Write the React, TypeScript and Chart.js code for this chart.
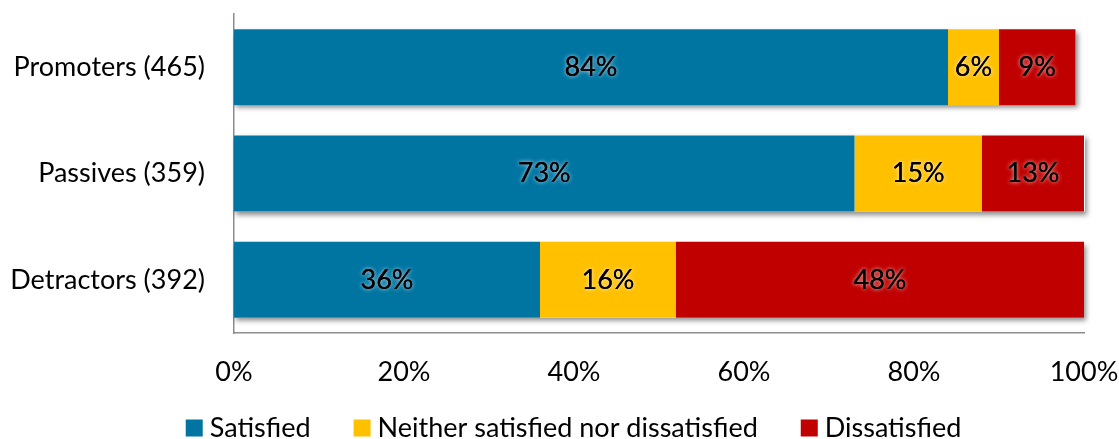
import React, { useEffect, useRef } from 'react';
import { Chart, registerables } from 'chart.js';

Chart.register(...registerables);

const categories = ['Promoters (465)', 'Passives (359)', 'Detractors (392)'];
const seriesNames = ['Satisfied', 'Neither satisfied nor dissatisfied', 'Dissatisfied'];
const satisfied = [84, 73, 36];
const neither = [6, 15, 16];
const dissatisfied = [9, 13, 48];
const xTickValues = [0, 20, 40, 60, 80, 100];
const seriesColors = ['#0075A2', '#FFC000', '#C00000'];

const FONT_FAMILY = 'Lato, "Open Sans", sans-serif';
const FONT_SIZE = 27;

const barShadowPlugin = {
  id: 'barShadow',
  beforeDatasetsDraw(chart: any) {
    const { ctx, chartArea } = chart;
    const n = chart.data.labels.length;
    ctx.save();
    ctx.shadowColor = 'rgba(0,0,0,0.45)';
    ctx.shadowBlur = 5;
    ctx.shadowOffsetX = 2;
    ctx.shadowOffsetY = 3;
    for (let i = 0; i < n; i++) {
      let left = Infinity;
      let right = -Infinity;
      let top = 0;
      let h = 0;
      chart.data.datasets.forEach((_: any, d: number) => {
        const el = chart.getDatasetMeta(d).data[i] as any;
        if (!el) return;
        left = Math.min(left, el.base, el.x);
        right = Math.max(right, el.base, el.x);
        top = el.y - el.height / 2;
        h = el.height;
      });
      right = Math.min(right, chartArea.right + 1);
      ctx.fillStyle = '#ffffff';
      ctx.fillRect(left, top, right - left, h);
    }
    ctx.restore();
  },
};

const valueLabelPlugin = {
  id: 'valueLabels',
  afterDatasetsDraw(chart: any) {
    const { ctx, chartArea } = chart;
    ctx.save();
    ctx.font = `${FONT_SIZE}px ${FONT_FAMILY}`;
    ctx.textAlign = 'center';
    ctx.textBaseline = 'middle';
    chart.data.datasets.forEach((ds: any, d: number) => {
      const meta = chart.getDatasetMeta(d);
      meta.data.forEach((el: any, i: number) => {
        const v = ds.data[i];
        const l = Math.max(chartArea.left, Math.min(el.base, el.x));
        const r = Math.min(chartArea.right, Math.max(el.base, el.x));
        const cx = (l + r) / 2;
        const cy = el.y;
        const txt = `${v}%`;
        ctx.shadowColor = 'rgba(255,255,255,0.85)';
        ctx.shadowBlur = 4;
        ctx.shadowOffsetX = 0;
        ctx.shadowOffsetY = 0;
        ctx.fillStyle = '#000000';
        ctx.fillText(txt, cx, cy);
        ctx.shadowBlur = 0;
        ctx.fillText(txt, cx, cy);
      });
    });
    ctx.restore();
  },
};

const customLegendPlugin = {
  id: 'customLegend',
  afterDraw(chart: any) {
    const { ctx, width } = chart;
    const box = 17;
    const textGap = 7;
    const itemGap = 43;
    const y = 428;
    ctx.save();
    ctx.font = `${FONT_SIZE}px ${FONT_FAMILY}`;
    ctx.textBaseline = 'middle';
    ctx.textAlign = 'left';
    const items = chart.data.datasets.map((ds: any) => ({
      label: ds.label,
      color: ds.backgroundColor,
      w: ctx.measureText(ds.label).width,
    }));
    const total =
      items.reduce((s: number, it: any) => s + box + textGap + it.w, 0) + itemGap * (items.length - 1);
    let x = (width - total) / 2 + 14;
    items.forEach((it: any) => {
      ctx.fillStyle = it.color;
      ctx.fillRect(x, y - box / 2, box, box);
      ctx.fillStyle = '#000000';
      ctx.fillText(it.label, x + box + textGap, y);
      x += box + textGap + it.w + itemGap;
    });
    ctx.restore();
  },
};

export default function App() {
  const ref = useRef<HTMLCanvasElement | null>(null);

  useEffect(() => {
    document.body.style.margin = '0';
    if (!ref.current) return;
    const data = [satisfied, neither, dissatisfied];
    const chart = new Chart(ref.current, {
      type: 'bar',
      data: {
        labels: categories,
        datasets: seriesNames.map((name, k) => ({
          label: name,
          data: data[k],
          backgroundColor: seriesColors[k],
          borderWidth: 0,
          categoryPercentage: 0.715,
          barPercentage: 1,
        })),
      },
      options: {
        indexAxis: 'y',
        responsive: false,
        animation: false,
        layout: { padding: { top: 14, right: 35, left: 0, bottom: 50 } },
        plugins: {
          legend: { display: false },
          tooltip: { enabled: false },
        },
        scales: {
          x: {
            stacked: true,
            min: 0,
            max: 100,
            afterBuildTicks(scale: any) {
              scale.ticks = xTickValues.map((v) => ({ value: v }));
            },
            afterFit(scale: any) {
              scale.height = 56;
              scale.paddingLeft = 0;
              scale.paddingRight = 0;
              scale.paddingTop = 0;
              scale.paddingBottom = 0;
            },
            ticks: {
              callback: (v: any) => `${v}%`,
              color: '#000000',
              padding: 23,
              maxRotation: 0,
              font: { family: FONT_FAMILY, size: FONT_SIZE },
            },
            grid: { display: false, drawTicks: false },
            border: { display: true, color: '#8c8c8c', width: 1.5 },
          },
          y: {
            stacked: true,
            afterFit(scale: any) {
              scale.width = 234;
              scale.paddingTop = 0;
              scale.paddingBottom = 0;
              scale.paddingLeft = 0;
              scale.paddingRight = 0;
            },
            ticks: {
              color: '#000000',
              padding: 29,
              font: { family: FONT_FAMILY, size: FONT_SIZE },
            },
            grid: { display: false, drawTicks: false },
            border: { display: true, color: '#8c8c8c', width: 1.5 },
          },
        },
      },
      plugins: [barShadowPlugin, valueLabelPlugin, customLegendPlugin],
    });
    return () => chart.destroy();
  }, []);

  return (
    <div style={{ position: 'absolute', left: 0, top: 0, width: 1119, height: 439, background: '#fff' }}>
      <canvas ref={ref} width={1119} height={439} />
    </div>
  );
}
